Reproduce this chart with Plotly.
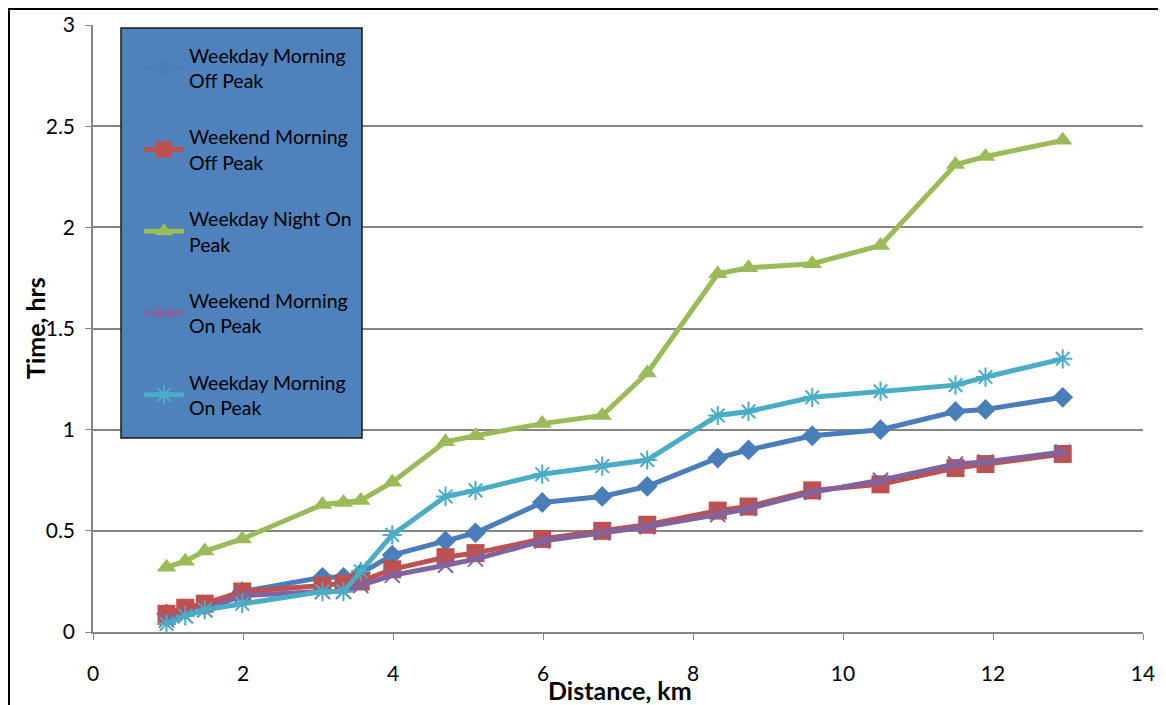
import plotly.graph_objects as go

distance = [0.98, 1.23, 1.49, 1.99, 3.06, 3.34, 3.57, 3.99, 4.70, 5.10,
            5.99, 6.79, 7.39, 8.33, 8.74, 9.59, 10.50, 11.50, 11.90, 12.93]

weekday_morning_off = [0.09, 0.11, 0.13, 0.20, 0.27, 0.27, 0.29, 0.38, 0.45, 0.49,
                       0.64, 0.67, 0.72, 0.86, 0.90, 0.97, 1.00, 1.09, 1.10, 1.16]
weekend_morning_off = [0.09, 0.12, 0.14, 0.20, 0.23, 0.24, 0.25, 0.31, 0.37, 0.39,
                       0.46, 0.50, 0.53, 0.60, 0.62, 0.70, 0.73, 0.81, 0.83, 0.88]
weekday_night_on = [0.32, 0.35, 0.40, 0.46, 0.63, 0.64, 0.65, 0.74, 0.94, 0.97,
                    1.03, 1.07, 1.28, 1.77, 1.80, 1.82, 1.91, 2.31, 2.35, 2.43]
weekend_morning_on = [0.06, 0.08, 0.11, 0.18, 0.20, 0.20, 0.23, 0.28, 0.33, 0.36,
                      0.45, 0.49, 0.52, 0.58, 0.61, 0.69, 0.75, 0.83, 0.84, 0.89]
weekday_morning_on = [0.04, 0.08, 0.11, 0.14, 0.20, 0.20, 0.30, 0.48, 0.67, 0.70,
                      0.78, 0.82, 0.85, 1.07, 1.09, 1.16, 1.19, 1.22, 1.26, 1.35]

series_names = ["Weekday Morning<br>Off Peak", "Weekend Morning<br>Off Peak",
                "Weekday Night On<br>Peak", "Weekend Morning<br>On Peak",
                "Weekday Morning<br>On Peak"]
series_values = [weekday_morning_off, weekend_morning_off, weekday_night_on,
                 weekend_morning_on, weekday_morning_on]
colors = ["#4A7EBB", "#C0504D", "#9BBB59", "#8064A2", "#4BACC6"]
symbols = ["diamond", "square", "triangle-up", "x-thin-open", "asterisk-open"]
sizes = [16, 18, 17, 15, 16]

x_ticks = [0, 2, 4, 6, 8, 10, 12, 14]
y_ticks = [0, 0.5, 1, 1.5, 2, 2.5, 3]
y_tick_text = ["0", "0.5", "1", "1.5", "2", "2.5", "3"]

FONT = "Lato"
W, H = 1158, 697
L, R, T, B = 85, 23, 17, 73
PW, PH = W - L - R, H - T - B


def px(xf):
    return (xf - L) / PW


def py(yf):
    return (T + PH - yf) / PH


fig = go.Figure()
for i, (name, vals) in enumerate(zip(series_names, series_values)):
    open_sym = symbols[i].endswith("open")
    fig.add_trace(go.Scatter(
        x=distance, y=vals, name=name, mode="lines+markers",
        legendgroup=f"g{i}",
        line=dict(color=colors[i], width=5),
        marker=dict(symbol=symbols[i], size=sizes[i], color=colors[i],
                    line=dict(color=colors[i], width=2 if open_sym else 0)),
    ))

fig.update_layout(
    width=W, height=H,
    margin=dict(l=L, r=R, t=T, b=B, autoexpand=False),
    paper_bgcolor="white", plot_bgcolor="white",
    font=dict(family=FONT, size=21, color="black"),
    showlegend=True,
    legend=dict(x=px(131), y=py(28), xanchor="left", yanchor="top",
                bgcolor="rgba(0,0,0,0)", borderwidth=0,
                font=dict(family=FONT, size=19.5, color="black"),
                tracegroupgap=28, itemwidth=40),
    xaxis=dict(range=[0, 14], tickvals=x_ticks, showgrid=False, automargin=False,
               showline=True, linecolor="#868686", linewidth=1.5,
               ticks="outside", ticklen=6, tickcolor="#868686", zeroline=False,
               ticklabelstandoff=16),
    yaxis=dict(range=[0, 3], tickvals=y_ticks, ticktext=y_tick_text,
               automargin=False,
               showgrid=True, gridcolor="#868686", gridwidth=1.5,
               showline=True, linecolor="#868686", linewidth=1.5,
               ticks="outside", ticklen=6, tickcolor="#868686", zeroline=False,
               ticklabelstandoff=6),
    shapes=[
        dict(type="rect", xref="paper", yref="paper",
             x0=px(113), x1=px(354), y0=py(430), y1=py(20),
             fillcolor="#4F81BD", line=dict(color="#1a1a1a", width=1.5),
             layer="above"),
        dict(type="rect", xref="paper", yref="paper",
             x0=px(1), x1=px(W + 50), y0=py(H + 50), y1=py(1),
             fillcolor="rgba(0,0,0,0)", line=dict(color="black", width=2),
             layer="above"),
    ],
    annotations=[
        dict(text="<b>Distance, km</b>", xref="paper", yref="paper",
             x=px(612), y=py(682), xanchor="center", yanchor="middle",
             showarrow=False, font=dict(family=FONT, size=25)),
        dict(text="<b>Time, hrs</b>", xref="paper", yref="paper",
             x=px(27), y=py(320), xanchor="center",
             yanchor="middle", textangle=-90, showarrow=False,
             font=dict(family=FONT, size=25)),
    ],
)

fig.write_html("out.html")
